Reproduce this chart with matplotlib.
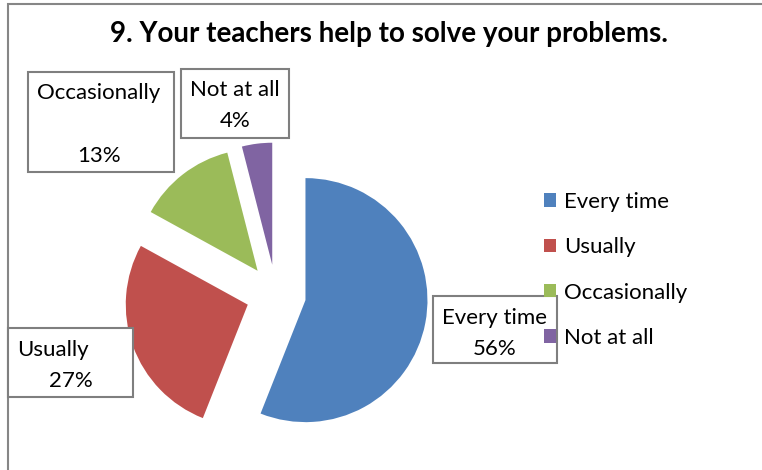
import matplotlib
import matplotlib.pyplot as plt
from matplotlib.patches import Rectangle

matplotlib.use('Agg')
plt.rcParams['font.family'] = ['Lato', 'DejaVu Sans']

# data
categories = ['Every time', 'Usually', 'Occasionally', 'Not at all']
shares = [56, 27, 13, 4]
colors = ['#4F81BD', '#C0504D', '#9BBB59', '#8064A2']
title = '9. Your teachers help to solve your problems.'

W, H = 762, 470
fig = plt.figure(figsize=(W / 100, H / 100), dpi=100)
ax = fig.add_axes([0, 0, 1, 1])


def py(y):
    # pixel row (from top) -> data y (from bottom)
    return H - y


# explode is in data units here (pixels), not a fraction of the radius
wedges, _ = ax.pie(shares, colors=colors, startangle=90, counterclock=False,
                   explode=[30] * len(shares), center=(276, py(294.5)), radius=122,
                   wedgeprops=dict(linewidth=0))
ax.set_xlim(0, W)
ax.set_ylim(0, H)
ax.set_aspect('equal')
ax.axis('off')

# chart border (runs off right and bottom)
ax.add_patch(Rectangle((8, py(W)), W, W - 4, fill=False, edgecolor='#868686', linewidth=1.5,
                       clip_on=False))

ax.text(389, py(34), title, ha='center', va='center', fontsize=20, fontweight='bold')

# data label boxes: (x0, y0, x1, y1) in pixels
boxes = [(433, 296, 557, 363), (8, 328, 133, 397), (28, 72, 174, 172), (181, 69, 289, 138)]
for (x0, y0, x1, y1) in boxes:
    ax.add_patch(Rectangle((x0, py(y1)), x1 - x0, y1 - y0, facecolor='white',
                           edgecolor='#7f7f7f', linewidth=1.5))

fs = 16
ax.text(495, py(318), categories[0], ha='center', va='center', fontsize=fs)
ax.text(495, py(349), f'{shares[0]}%', ha='center', va='center', fontsize=fs)
ax.text(17, py(350), categories[1], ha='left', va='center', fontsize=fs)
ax.text(71, py(381), f'{shares[1]}%', ha='center', va='center', fontsize=fs)
ax.text(99, py(93), categories[2], ha='center', va='center', fontsize=fs)
ax.text(99, py(156), f'{shares[2]}%', ha='center', va='center', fontsize=fs)
ax.text(235, py(90), categories[3], ha='center', va='center', fontsize=fs)
ax.text(235, py(121), f'{shares[3]}%', ha='center', va='center', fontsize=fs)

leg = ax.legend(wedges, categories, loc='upper left', bbox_to_anchor=(544 / W, 1 - 192 / H),
                frameon=False, fontsize=fs, handlelength=0.55, handleheight=0.55,
                handletextpad=0.35, labelspacing=1.14, borderaxespad=0, borderpad=0)
leg.set_zorder(10)

fig.savefig('out.png', dpi=100)
